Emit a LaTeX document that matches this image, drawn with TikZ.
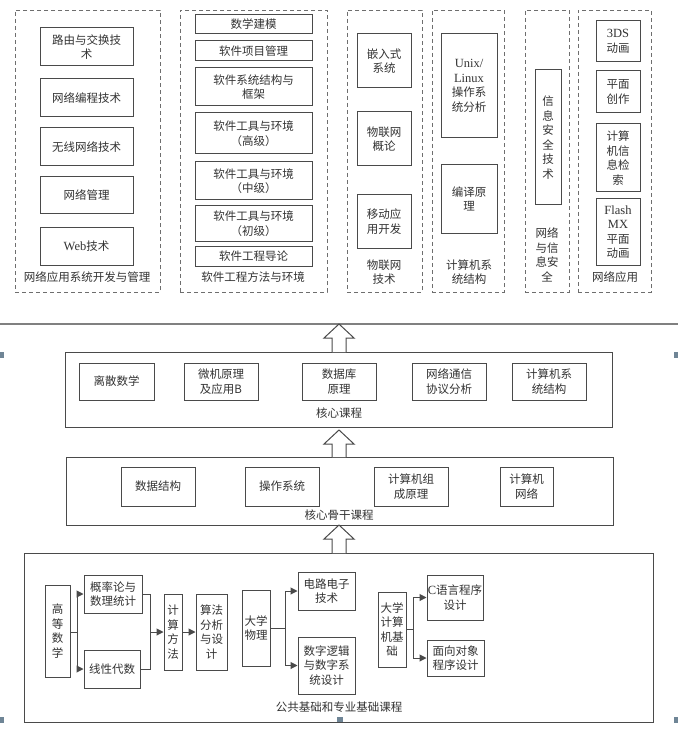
\documentclass[tikz,border=0pt]{standalone}
\usepackage{fontspec}
\setmainfont{Liberation Serif}
\newfontfamily\cjk{Noto Sans CJK SC}
\usetikzlibrary{arrows.meta,calc}
\definecolor{ln}{HTML}{4A4A4A}
\definecolor{tx}{HTML}{333333}
\definecolor{hd}{HTML}{6F8596}
\tikzset{
 box/.style={draw=ln,line width=1pt,inner sep=0pt,align=center,text=tx,font=\cjk\fontsize{11.5}{14.5}\selectfont},
 grp/.style={draw=ln!80,line width=0.9pt,dash pattern=on 4pt off 3pt,inner sep=0pt},
 lab/.style={text=tx,font=\cjk\fontsize{11.5}{14.5}\selectfont,align=center,inner sep=0pt},
 con/.style={draw=ln,line width=1pt},
 arr/.style={con,-{Triangle[length=7pt,width=7pt]}},
 blk/.style={draw=ln,line width=1pt,fill=white}
}
\newcommand\bx[7][box]{\node[#1,minimum width={(#5-#3)*1pt},minimum height={(#6-#4)*1pt}] (#2) at ({(#3+#5)/2},{(#4+#6)/2}) {#7};}
\newcommand\blkarrow[2]{%
 \draw[blk] ($(#1)+(-7,0)$) -- ($(#2)+(-7,14)$) -- ($(#2)+(-15,14)$) -- (#2) -- ($(#2)+(15,14)$) -- ($(#2)+(7,14)$) -- ($(#1)+(7,0)$);}
\newcommand\lat[1]{{\rmfamily\fontsize{12.5}{14.5}\selectfont #1}}
\begin{document}
\begin{tikzpicture}[x=1pt,y=-1pt]
\useasboundingbox (0,0) rectangle (678,735);
\fill[white] (0,0) rectangle (678,735);
\bx[grp]{g1}{15}{10}{160}{292}{}
\bx[grp]{g2}{180}{10}{327}{292}{}
\bx[grp]{g3}{347}{10}{422}{292}{}
\bx[grp]{g4}{432}{10}{504}{292}{}
\bx[grp]{g5}{525}{10}{569}{292}{}
\bx[grp]{g6}{578}{10}{651}{292}{}
\bx{a1}{40}{28}{133}{66}{路由与交换技\\术}
\bx{a2}{40}{79}{133}{117}{网络编程技术}
\bx{a3}{40}{128}{133}{166}{无线网络技术}
\bx{a4}{40}{177}{133}{214}{网络管理}
\bx{a5}{40}{227}{133}{265}{\lat{Web}技术}
\node[lab] (l1) at (87,277) {网络应用系统开发与管理};
\bx{b1}{195}{15}{312}{34}{数学建模}
\bx{b2}{195}{41}{312}{61}{软件项目管理}
\bx{b3}{195}{68}{312}{106}{软件系统结构与\\框架}
\bx{b4}{195}{113}{312}{154}{软件工具与环境\\（高级）}
\bx{b5}{195}{162}{312}{200}{软件工具与环境\\（中级）}
\bx{b6}{195}{206}{312}{241}{软件工具与环境\\（初级）}
\bx{b7}{195}{246}{312}{266}{软件工程导论}
\node[lab] (l2) at (253,277) {软件工程方法与环境};
\bx{c1}{357}{34}{411}{88}{嵌入式\\系统}
\bx{c2}{357}{112}{411}{166}{物联网\\概论}
\bx{c3}{357}{195}{411}{248}{移动应\\用开发}
\node[lab] (l3) at (384,272) {物联网\\技术};
\bx{d1}{441}{34}{497}{138}{\lat{Unix/}\\\lat{Linux}\\操作系\\统分析}
\bx{d2}{441}{165}{497}{233}{编译原\\理}
\node[lab] (l4) at (469,272) {计算机系\\统结构};
\bx{e1}{535}{70}{561}{205}{信\\息\\安\\全\\技\\术}
\node[lab] (l5) at (547,255) {网络\\与信\\息安\\全};
\bx{f1}{596}{21}{640}{62}{\lat{3DS}\\动画}
\bx{f2}{596}{71}{640}{113}{平面\\创作}
\bx{f3}{596}{124}{640}{192}{计算\\机信\\息检\\索}
\bx{f4}{596}{199}{640}{265}{\lat{Flash}\\\lat{MX}\\平面\\动画}
\node[lab] (l6) at (615,277) {网络应用};
\coordinate (sepL) at (0,324); \coordinate (sepR) at (678,324);
\draw[ln!70,line width=1.5pt] (sepL) -- (sepR);
\foreach \y in {355,720}{\fill[hd] (0,\y-3) rectangle (4,\y+3); \fill[hd] (674,\y-3) rectangle (678,\y+3);}
\fill[hd] (337,717) rectangle (343,723);
\bx{core}{65}{352}{612}{427}{}
\bx{h1}{79}{363}{154}{400}{离散数学}
\bx{h2}{184}{363}{258}{400}{微机原理\\及应用B}
\bx{h3}{302}{363}{376}{400}{数据库\\原理}
\bx{h4}{412}{363}{486}{400}{网络通信\\协议分析}
\bx{h5}{512}{363}{586}{400}{计算机系\\统结构}
\node[lab] (lc) at (339,413) {核心课程};
\bx{back}{66}{457}{613}{525}{}
\bx{k1}{121}{467}{195}{506}{数据结构}
\bx{k2}{245}{467}{319}{506}{操作系统}
\bx{k3}{374}{467}{448}{506}{计算机组\\成原理}
\bx{k4}{500}{467}{553}{506}{计算机\\网络}
\node[lab] (lb) at (339,515) {核心骨干课程};
\bx{base}{24}{553}{653}{722}{}
\node[lab] (lba) at (339,707) {公共基础和专业基础课程};
\coordinate (p1) at (339,352); \coordinate (q1) at (339,324);
\coordinate (p2) at (339,457); \coordinate (q2) at (339,430);
\coordinate (p3) at (339,553); \coordinate (q3) at (339,525);
\blkarrow{p1}{q1}\blkarrow{p2}{q2}\blkarrow{p3}{q3}
\bx{m1}{45}{585}{70}{677}{高\\等\\数\\学}
\bx{m2}{84}{575}{142}{613}{概率论与\\数理统计}
\bx{m3}{84}{650}{140}{688}{线性代数}
\bx{m4}{164}{594}{182}{670}{计\\算\\方\\法}
\bx{m5}{196}{594}{227}{670}{算法\\分析\\与设\\计}
\bx{m6}{242}{590}{270}{666}{大学\\物理}
\bx{m7}{298}{572}{355}{610}{电路电子\\技术}
\bx{m8}{298}{637}{355}{694}{数字逻辑\\与数字系\\统设计}
\bx{m9}{378}{592}{406}{667}{大学\\计算\\机基\\础}
\bx{m10}{427}{575}{483}{620}{\lat{C}语言程序\\设计}
\bx{m11}{427}{640}{484}{676}{面向对象\\程序设计}
\coordinate (j1) at (77,632); \coordinate (j2) at (150,632);
\coordinate (j3) at (285,628); \coordinate (j4) at (413,629);
\draw[con] (m1.east|-j1) -- (j1);
\draw[arr] (j1) |- (m2.west);
\draw[arr] (j1) |- (m3.west);
\draw[con] (m2.east) -| (j2);
\draw[con] (m3.east) -| (j2);
\draw[arr] (j2) -- (m4.west|-j2);
\draw[arr] (m4.east|-j2) -- (m5.west|-j2);
\draw[con] (m6.east|-j3) -- (j3);
\draw[arr] (j3) |- (m7.west);
\draw[arr] (j3) |- (m8.west);
\draw[con] (m9.east|-j4) -- (j4);
\draw[arr] (j4) |- (m10.west);
\draw[arr] (j4) |- (m11.west);
\end{tikzpicture}
\end{document}
